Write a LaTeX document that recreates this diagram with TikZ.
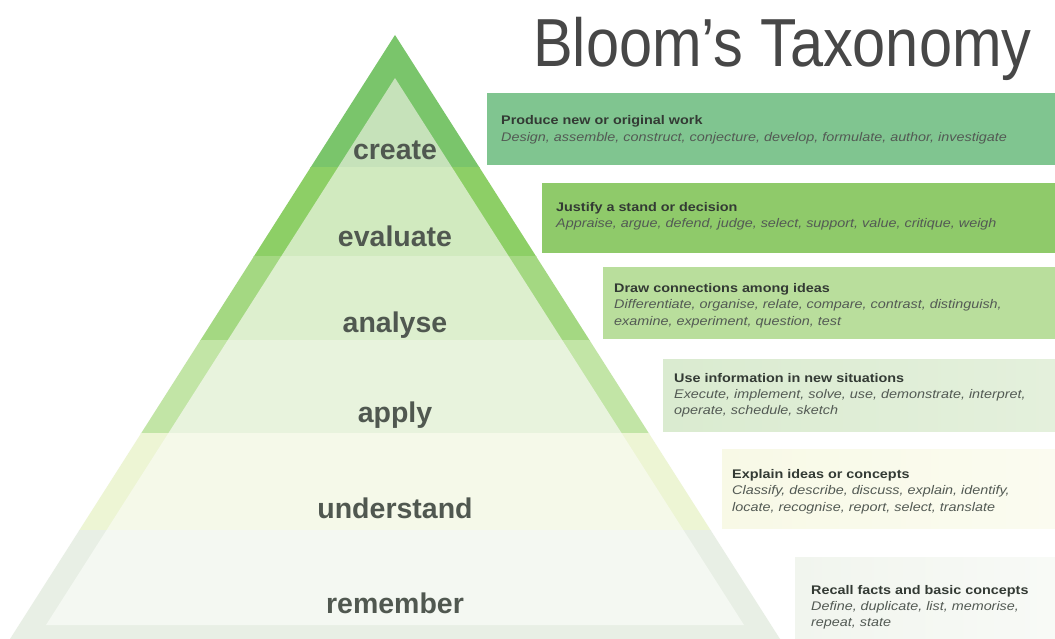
\documentclass[tikz,border=0pt]{standalone}
\usepackage{fontspec}
\setmainfont{Liberation Sans}
\usepackage{graphicx}
\definecolor{bandA}{HTML}{7AC56B}
\definecolor{fillA}{HTML}{C6E2BA}
\definecolor{bandB}{HTML}{8DCF66}
\definecolor{fillB}{HTML}{D1EABF}
\definecolor{bandC}{HTML}{A4D882}
\definecolor{fillC}{HTML}{DDEFCE}
\definecolor{bandD}{HTML}{C2E5A6}
\definecolor{fillD}{HTML}{E8F3DD}
\definecolor{bandE}{HTML}{EDF5D4}
\definecolor{fillE}{HTML}{F5F9E9}
\definecolor{bandF}{HTML}{E8EFE5}
\definecolor{fillF}{HTML}{F4F8F2}
\definecolor{boxA}{HTML}{80C590}
\definecolor{boxB}{HTML}{8FCA6A}
\definecolor{boxC}{HTML}{B9DE9C}
\definecolor{boxD}{HTML}{DAEBD0}
\definecolor{boxDr}{HTML}{E4F0DC}
\definecolor{boxE}{HTML}{F8F9E6}
\definecolor{boxF}{HTML}{F1F5EE}
\definecolor{lbl}{HTML}{505850}
\definecolor{btxt}{HTML}{333A34}
\definecolor{itxt}{HTML}{535A54}
\definecolor{ttl}{HTML}{474747}
\newcommand{\wide}[1]{\scalebox{1.15}[1]{#1}}
\tikzset{
  lvl/.style={font=\fontsize{28.5}{30}\selectfont\bfseries, text=lbl, anchor=base, inner sep=0pt},
  bt/.style={font=\fontsize{12.5}{14}\selectfont\bfseries, text=btxt, anchor=base west, inner sep=0pt},
  bi/.style={font=\fontsize{12.5}{14}\selectfont\itshape, text=itxt, anchor=base west, inner sep=0pt},
}
\newcommand{\pyrlevel}[4]{%
  \begin{scope}
    \clip (0,#1) rectangle (1055,#2);
    \fill[#3] (395,35) -- (10,639) -- (780,639) -- cycle;
    \fill[#4] (395,78) -- (46,625) -- (744,625) -- cycle;
  \end{scope}}
\begin{document}
\begin{tikzpicture}[x=1pt,y=-1pt]
\useasboundingbox (0,0) rectangle (1055,639);
\fill[white] (0,0) rectangle (1055,639);
% pyramid levels
\pyrlevel{0}{168}{bandA}{fillA}
\pyrlevel{168}{257}{bandB}{fillB}
\pyrlevel{257}{340}{bandC}{fillC}
\pyrlevel{340}{433}{bandD}{fillD}
\pyrlevel{433}{530}{bandE}{fillE}
\pyrlevel{530}{639}{bandF}{fillF}
% level labels
\node[lvl] (create) at (395,160) {create};
\node[lvl] (evaluate) at (395,247) {evaluate};
\node[lvl] (analyse) at (395,332) {analyse};
\node[lvl] (apply) at (395,422) {apply};
\node[lvl] (understand) at (395,518) {understand};
\node[lvl] (remember) at (395,613) {remember};
% title
\node[anchor=base west, inner sep=0pt, text=ttl, font=\fontsize{68}{70}\selectfont] (title) at (533,67) {\scalebox{0.875}[1]{Bloom’s Taxonomy}};
% boxes
\fill[boxA] (487,93) rectangle (1055,165);
\fill[boxB] (542,183) rectangle (1055,253);
\fill[boxC] (603,267) rectangle (1055,339);
\shade[left color=boxD, right color=boxDr] (663,359) rectangle (1055,431);
\shade[left color=boxE, right color=boxE!60!white] (722,449) rectangle (1055,528);
\shade[left color=boxF, right color=boxF!50!white] (795,557) rectangle (1055,639);
% box texts
\node[bt] (c1) at (501,125) {\wide{Produce new or original work}};
\node[bi] (c2) at (501,142) {\wide{Design, assemble, construct, conjecture, develop, formulate, author, investigate}};
\node[bt] (e1) at (556,212) {\wide{Justify a stand or decision}};
\node[bi] (e2) at (556,228) {\wide{Appraise, argue, defend, judge, select, support, value, critique, weigh}};
\node[bt] (a1) at (614,292) {\wide{Draw connections among ideas}};
\node[bi] (a2) at (614,308) {\wide{Differentiate, organise, relate, compare, contrast, distinguish,}};
\node[bi] (a3) at (614,325) {\wide{examine, experiment, question, test}};
\node[bt] (p1) at (674,382) {\wide{Use information in new situations}};
\node[bi] (p2) at (674,398) {\wide{Execute, implement, solve, use, demonstrate, interpret,}};
\node[bi] (p3) at (674,414) {\wide{operate, schedule, sketch}};
\node[bt] (u1) at (732,478) {\wide{Explain ideas or concepts}};
\node[bi] (u2) at (732,494) {\wide{Classify, describe, discuss, explain, identify,}};
\node[bi] (u3) at (732,511) {\wide{locate, recognise, report, select, translate}};
\node[bt] (r1) at (811,594) {\wide{Recall facts and basic concepts}};
\node[bi] (r2) at (811,610) {\wide{Define, duplicate, list, memorise,}};
\node[bi] (r3) at (811,626) {\wide{repeat, state}};
\end{tikzpicture}
\end{document}
